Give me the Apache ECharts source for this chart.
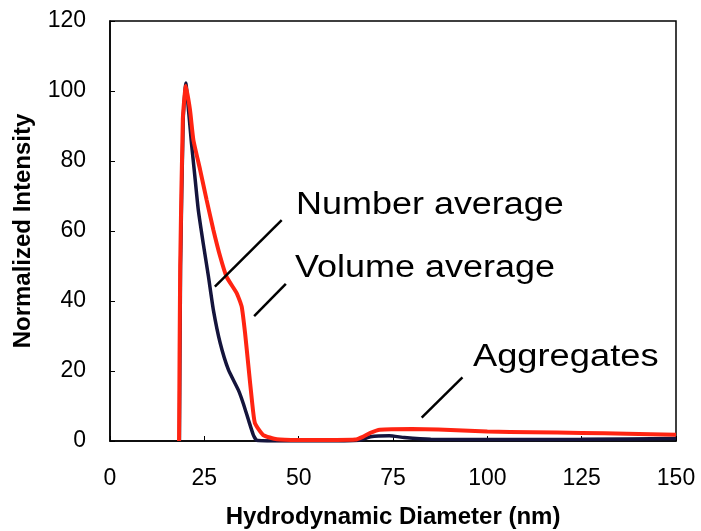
<!DOCTYPE html>
<html>
<head>
<meta charset="utf-8">
<script src="https://cdn.jsdelivr.net/npm/echarts@6/dist/echarts.min.js"></script>
<style>
  html, body { margin: 0; padding: 0; background: #fff; }
  #chart { width: 701px; height: 531px; }
</style>
</head>
<body>
<div id="chart"></div>
<script>
// volume average (red) and number average (navy), [diameter nm, normalized intensity]
var volumeAvg = [
    [18.3, 0], [18.6, 50], [19.3, 92], [20.1, 101.5], [21.2, 94.6], [22.1, 86],
    [23.9, 77.4], [25.6, 68.9], [27.4, 60.3], [29.2, 52.7], [30.9, 46.9],
    [33.6, 42.2], [34.9, 38.4], [35.8, 30.8], [36.7, 21.2], [37.6, 11.7],
    [38.4, 5.1], [40.6, 1.7], [44.2, 0.5], [50, 0.3], [60, 0.3], [65, 0.4],
    [67, 1.2], [69, 2.3], [71.5, 3.2], [80, 3.4], [87, 3.3], [100, 2.7],
    [112, 2.5], [125, 2.3], [137, 2.1], [150, 1.8]
];
var numberAvg = [
    [18.4, 0], [18.7, 50], [19.4, 92], [20.1, 102.3], [20.8, 94.6], [21.6, 85], [22.5, 75.5],
    [23.4, 66], [24.7, 56.5], [26.1, 46.9], [27.4, 37.4], [29.2, 28], [31.4, 20.3],
    [34, 14.6], [35.3, 10.8], [36.7, 6], [38, 1.7], [38.9, 0.2], [45, 0], [60, 0],
    [66, 0.2], [69, 1.2], [74, 1.5], [78, 1.0], [85, 0.5], [100, 0.4], [125, 0.5],
    [150, 0.7]
];
// pointer lines for the annotations, in data coords
var pointerLines = [
    [[27.8, 44.1], [45.5, 63.1]],
    [[38.2, 35.7], [46.6, 44.9]],
    [[82.6, 6.7], [93.4, 18.2]]
];
var labels = ['Number average', 'Volume average', 'Aggregates'];

var font = 'Liberation Sans, Arial, sans-serif';
var myChart = echarts.init(document.getElementById('chart'));

function note(txt, x, y, sx) {
    return {
        type: 'text', x: x, y: y, scaleX: sx,
        style: { text: txt, font: '31px ' + font, fill: '#000', verticalAlign: 'middle' }
    };
}

var option = {
    animation: false,
    grid: {
        left: 110, right: 25, top: 21, bottom: 90,
        outerBoundsMode: 'none',
        show: true, borderColor: '#000', borderWidth: 1.5
    },
    xAxis: {
        type: 'value', min: 0, max: 150, interval: 25,
        name: 'Hydrodynamic Diameter (nm)',
        nameLocation: 'middle', nameGap: 64,
        nameTextStyle: { fontFamily: font, fontSize: 24, fontWeight: 'bold', color: '#000' },
        axisLine: { lineStyle: { color: '#000', width: 1.5 } },
        axisTick: { inside: true, length: 5, lineStyle: { color: '#000' } },
        axisLabel: { fontFamily: font, fontSize: 23, color: '#000', margin: 26 },
        splitLine: { show: false }
    },
    yAxis: {
        type: 'value', min: 0, max: 120, interval: 20,
        name: 'Normalized Intensity',
        nameLocation: 'middle', nameGap: 75,
        nameTextStyle: { fontFamily: font, fontSize: 24, fontWeight: 'bold', color: '#000' },
        axisLine: { show: true, lineStyle: { color: '#000', width: 1.5 } },
        axisTick: { show: true, inside: true, length: 5, lineStyle: { color: '#000' } },
        axisLabel: { fontFamily: font, fontSize: 23, color: '#000', margin: 24 },
        splitLine: { show: false }
    },
    series: [
        {
            name: 'Volume average', type: 'line', data: volumeAvg,
            showSymbol: false, smooth: 0.15,
            lineStyle: { color: '#ff2412', width: 4 }, z: 3
        },
        {
            name: 'Number average', type: 'line', data: numberAvg,
            showSymbol: false, smooth: 0.15,
            lineStyle: { color: '#14143c', width: 3.5 }, z: 2
        },
        {
            type: 'line', data: [], silent: true,
            markLine: {
                symbol: 'none', silent: true,
                label: { show: false },
                lineStyle: { color: '#000', width: 2.5, type: 'solid' },
                data: pointerLines.map(function (p) {
                    return [{ coord: p[0] }, { coord: p[1] }];
                })
            }
        }
    ],
    graphic: [
        note(labels[0], 296, 205, 1.16),
        note(labels[1], 295, 268, 1.16),
        note(labels[2], 473, 357, 1.17)
    ]
};
myChart.setOption(option);
</script>
</body>
</html>
